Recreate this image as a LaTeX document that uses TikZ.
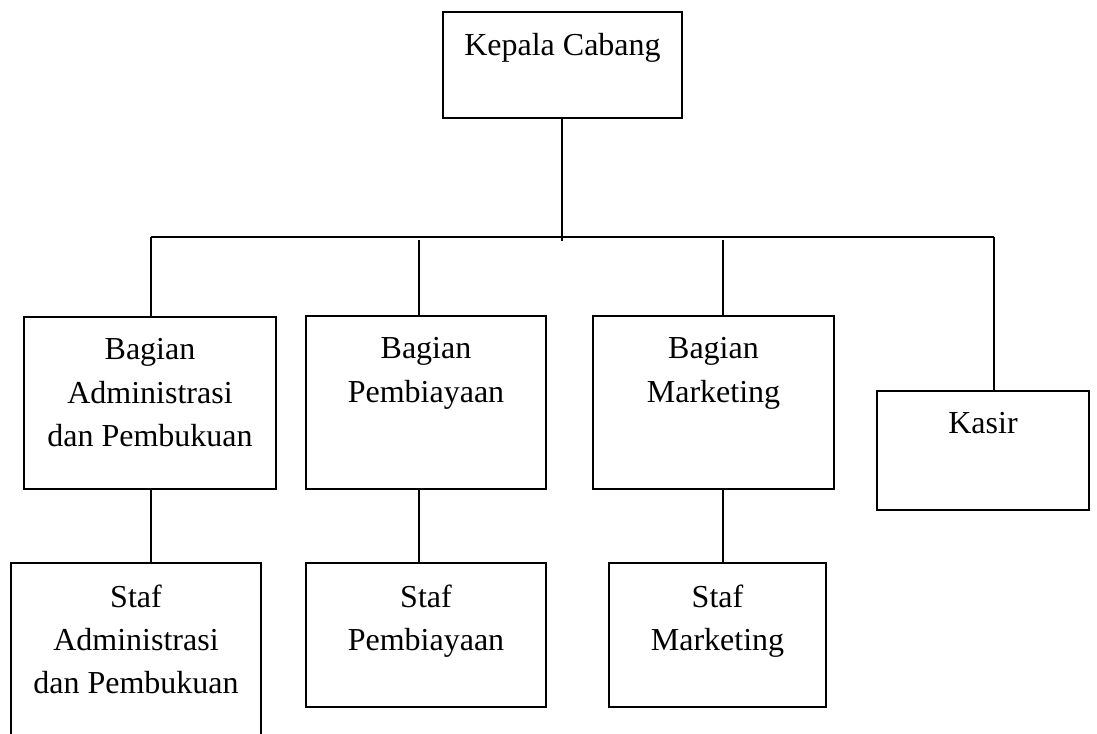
\documentclass[tikz,border=0pt]{standalone}
\usepackage{fontspec}
\setmainfont{Liberation Serif}
\usepackage{tikz}
\usetikzlibrary{positioning, calc}

\begin{document}
\begin{tikzpicture}[x=0.75pt, y=-0.75pt,
    box/.style={draw, line width=1.3pt, inner sep=0pt, outer sep=0pt},
    txt/.style={align=center, inner sep=0pt, font=\fontsize{24}{32.5}\selectfont},
    link/.style={line width=1pt}]
\useasboundingbox (0,0) rectangle (1097,733);
\clip (0,0) rectangle (1097,733);

% Head of branch
\node[box, minimum width=179.25pt, minimum height=79.5pt] (kc) at (562.5,65) {};
\node[txt, below=16pt of kc.north] (kct) {Kepala Cabang};

% Divisions
\node[box, minimum width=189pt, minimum height=129pt] (badm) at (150,403) {};
\node[txt, below=16pt of badm.north] (badmt) {Bagian\\Administrasi\\dan Pembukuan};

\node[box, minimum width=180pt, minimum height=129.75pt] (bpem) at (426,402.5) {};
\node[txt, below=16pt of bpem.north] (bpemt) {Bagian\\Pembiayaan};

\node[box, minimum width=180.75pt, minimum height=129.75pt] (bmkt) at (713.5,402.5) {};
\node[txt, below=16pt of bmkt.north] (bmktt) {Bagian\\Marketing};

\node[box, minimum width=159pt, minimum height=89.25pt] (ksr) at (983,450.5) {};
\node[txt, below=16pt of ksr.north] (ksrt) {Kasir};

% Staff
\node[box, minimum width=187.5pt, minimum height=147.75pt] (sadm) at (136,661.5) {};
\node[txt, below=16pt of sadm.north] (sadmt) {Staf\\Administrasi\\dan Pembukuan};

\node[box, minimum width=180pt, minimum height=108pt] (spem) at (426,635) {};
\node[txt, below=16pt of spem.north] (spemt) {Staf\\Pembiayaan};

\node[box, minimum width=162.75pt, minimum height=108pt] (smkt) at (717.5,635) {};
\node[txt, below=16pt of smkt.north] (smktt) {Staf\\Marketing};

% Bus line
\coordinate (busL) at (151,237);
\coordinate (busR) at (994,237);
\coordinate (hub) at (562,241);
\coordinate (tapP) at (419,240);
\coordinate (tapM) at (723,240);

\draw[link] (kc.south -| hub) -- (hub);
\draw[link] (busL) -- (busR);
\draw[link] (busL) -- (busL |- badm.north);
\draw[link] (tapP) -- (tapP |- bpem.north);
\draw[link] (tapM) -- (tapM |- bmkt.north);
\draw[link] (busR) -- (busR |- ksr.north);

% Down to staff
\draw[link] (badm.south -| busL) -- (sadm.north -| busL);
\draw[link] (bpem.south -| tapP) -- (spem.north -| tapP);
\draw[link] (bmkt.south -| tapM) -- (smkt.north -| tapM);
\end{tikzpicture}
\end{document}
